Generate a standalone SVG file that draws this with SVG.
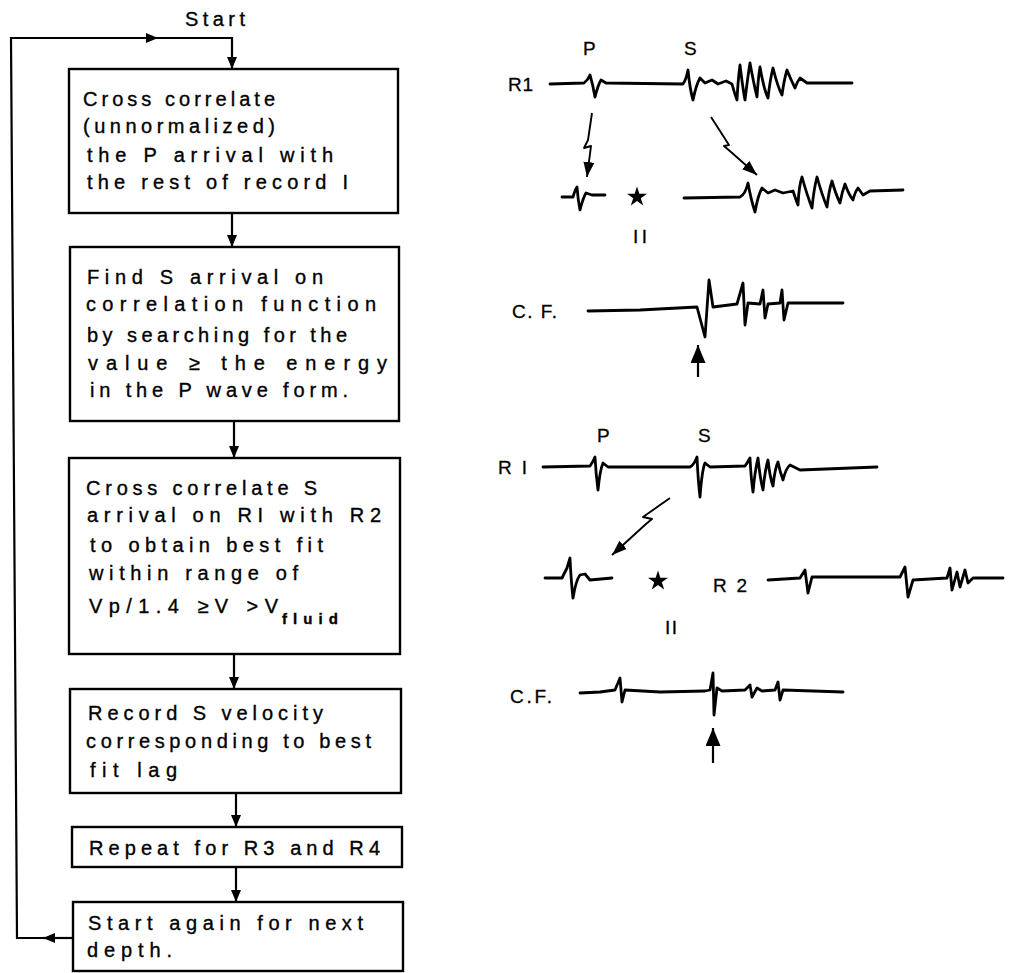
<svg xmlns="http://www.w3.org/2000/svg" width="1016" height="973" viewBox="0 0 1016 973">
<defs>
<style>
.box{fill:#fff;stroke:#000;stroke-width:2.4}
.t{font-family:"Liberation Sans",Arial,sans-serif;font-size:20px;fill:#000;stroke:#000;stroke-width:0.35}
.lbl{font-family:"Liberation Sans",Arial,sans-serif;font-size:19px;fill:#000;stroke:#000;stroke-width:0.3}
.conn{fill:none;stroke:#000;stroke-width:2.2}
.wave{fill:none;stroke:#000;stroke-width:2.8;stroke-linejoin:round;stroke-linecap:round}
.warr{fill:none;stroke:#000;stroke-width:1.9;stroke-linejoin:round}
</style>
<marker id="ah" viewBox="0 0 12 10" refX="12" refY="5" markerWidth="12" markerHeight="10" markerUnits="userSpaceOnUse" orient="auto">
<path d="M0,0 L12,5 L0,10 z" fill="#000"/>
</marker>
<marker id="ahw" viewBox="0 0 15 11" refX="15" refY="5.5" markerWidth="15" markerHeight="11" markerUnits="userSpaceOnUse" orient="auto">
<path d="M0,0 L15,5.5 L0,11 z" fill="#000"/>
</marker>
<marker id="ahb" viewBox="0 0 18 15" refX="18" refY="7.5" markerWidth="18" markerHeight="15" markerUnits="userSpaceOnUse" orient="auto">
<path d="M0,0 L18,7.5 L0,15 z" fill="#000"/>
</marker>
<path id="star" d="M0,-10 L2.245,-3.09 L9.51,-3.09 L3.63,1.18 L5.88,8.09 L0,3.82 L-5.88,8.09 L-3.63,1.18 L-9.51,-3.09 L-2.245,-3.09 Z" fill="#000"/>
</defs>
<rect width="1016" height="973" fill="#fff"/>

<g id="connectors">
<path class="conn" d="M73,938 L43,938" marker-end="url(#ah)"/>
<path class="conn" d="M44,938 L17,938 L11,38 L158,38" marker-end="url(#ah)"/>
<path class="conn" d="M157,38 L232,38 L232,69" marker-end="url(#ah)"/>
<path class="conn" d="M232,213 L232,247" marker-end="url(#ah)"/>
<path class="conn" d="M234,421 L234,458" marker-end="url(#ah)"/>
<path class="conn" d="M234,654 L234,689" marker-end="url(#ah)"/>
<path class="conn" d="M236,793 L236,827" marker-end="url(#ah)"/>
<path class="conn" d="M236,867 L236,902" marker-end="url(#ah)"/>
</g>

<g id="start">
<text class="t" x="185" y="26" textLength="60" lengthAdjust="spacing">Start</text>
</g>

<g id="node1">
<rect class="box" x="69" y="69" width="329" height="144"/>
<text class="t" x="83" y="106" textLength="192" lengthAdjust="spacing">Cross correlate</text>
<text class="t" x="83" y="133" textLength="192" lengthAdjust="spacing">(unnormalized)</text>
<text class="t" x="87" y="162" textLength="246" lengthAdjust="spacing">the P arrival with</text>
<text class="t" x="87" y="189" textLength="261" lengthAdjust="spacing">the rest of record I</text>
</g>

<g id="node2">
<rect class="box" x="70" y="247" width="329" height="174"/>
<text class="t" x="87" y="284" textLength="236" lengthAdjust="spacing">Find S arrival on</text>
<text class="t" x="86" y="311" textLength="290" lengthAdjust="spacing">correlation function</text>
<text class="t" x="87" y="342" textLength="260" lengthAdjust="spacing">by searching for the</text>
<text class="t" x="88" y="370" textLength="299" lengthAdjust="spacing">value  ≥  the energy</text>
<text class="t" x="90" y="397" textLength="258" lengthAdjust="spacing">in the P wave form.</text>
</g>

<g id="node3">
<rect class="box" x="69" y="458" width="331" height="196"/>
<text class="t" x="86" y="495" textLength="231" lengthAdjust="spacing">Cross correlate S</text>
<text class="t" x="87" y="522" textLength="294" lengthAdjust="spacing">arrival on RI with R2</text>
<text class="t" x="90" y="552" textLength="233" lengthAdjust="spacing">to obtain best fit</text>
<text class="t" x="89" y="580" textLength="209" lengthAdjust="spacing">within range of</text>
<text class="t" x="89" y="613" textLength="189" lengthAdjust="spacing">Vp/1.4 ≥V &gt;V</text>
<text class="t" x="282" y="624" style="font-size:15px;font-weight:bold" textLength="56" lengthAdjust="spacing">fluid</text>
</g>

<g id="node4">
<rect class="box" x="70" y="689" width="331" height="104"/>
<text class="t" x="88" y="720" textLength="235" lengthAdjust="spacing">Record S velocity</text>
<text class="t" x="86" y="748" textLength="285" lengthAdjust="spacing">corresponding to best</text>
<text class="t" x="90" y="777" textLength="87" lengthAdjust="spacing">fit lag</text>
</g>

<g id="node5">
<rect class="box" x="72" y="827" width="330" height="40"/>
<text class="t" x="89" y="855" textLength="291" lengthAdjust="spacing">Repeat for R3 and R4</text>
</g>

<g id="node6">
<rect class="box" x="73" y="902" width="330" height="69"/>
<text class="t" x="88" y="930" textLength="275" lengthAdjust="spacing">Start again for next</text>
<text class="t" x="87" y="957" textLength="85" lengthAdjust="spacing">depth.</text>
</g>

<g id="panel-top">
<text class="lbl" x="583" y="55">P</text>
<text class="lbl" x="684" y="55">S</text>
<text class="lbl" x="508" y="91" textLength="25" lengthAdjust="spacing">R1</text>
<path class="wave" d="M550,84 L584,83 Q588,80 590,75 Q593,85 595,97 Q598,85 601,80 L606,83 L683,84 Q686,80 688,70 Q690,90 693,100 Q696,85 700,78 L705,83 L712,80 L718,84 L726,81 L732,84 Q735,95 737,100 Q738,80 740,65 Q743,90 745,100 Q748,75 750,63 Q754,85 757,97 Q758,80 760,67 Q764,90 768,98 Q770,80 773,68 Q778,88 782,95 Q784,80 787,70 Q791,80 795,88 Q797,82 800,78 L807,83 L852,83"/>
<path class="warr" d="M592,113 L588,140 L584,148 L591,146 L587,177" marker-end="url(#ahw)"/>
<path class="warr" d="M711,117 L729,145 L724,146 L731,152 L757,175" marker-end="url(#ahw)"/>
<path class="wave" d="M562,197 L573,197 Q575,190 577,187 Q578,200 580,210 Q583,198 586,193 L592,195 L605,195"/>
<use href="#star" transform="translate(637,197) scale(1.05)"/>
<text class="lbl" x="633" y="243" textLength="14" lengthAdjust="spacing">II</text>
<path class="wave" d="M684,198 L740,197 Q745,195 748,183 Q751,200 755,212 Q758,195 762,188 L768,193 L775,190 L783,193 L793,191 Q796,200 798,205 Q799,185 802,177 Q807,195 812,208 Q814,188 817,177 Q822,195 827,207 Q829,190 832,181 Q836,195 840,203 Q842,192 845,184 Q849,195 853,200 Q855,192 858,188 L863,195 L870,191 L903,190"/>
<text class="lbl" x="512" y="318" textLength="45" lengthAdjust="spacing">C. F.</text>
<path class="wave" d="M588,311 L640,310 L697,307 L705,337 L709,280 L713,307 L737,304 L743,283 L745,325 L748,303 L760,304 L763,290 L765,318 L768,304 L780,303 L782,290 L784,320 L788,303 L843,303"/>
<path class="conn" d="M698,377 L698,345" marker-end="url(#ahb)"/>
</g>

<g id="panel-bottom">
<text class="lbl" x="597" y="442">P</text>
<text class="lbl" x="698" y="442">S</text>
<text class="lbl" x="498" y="474" textLength="29" lengthAdjust="spacing">RI</text>
<path class="wave" d="M543,467 L590,466 Q593,462 595,457 Q596,475 598,490 Q600,470 603,463 L608,467 L690,467 Q694,465 697,457 Q698,480 700,497 Q702,470 705,463 L710,467 L745,466 Q748,462 750,458 Q751,478 753,492 Q755,470 758,458 Q760,478 763,490 Q765,470 768,460 Q770,478 773,486 Q775,468 778,462 Q780,472 783,480 Q786,468 790,465 L800,470 L877,467"/>
<path class="warr" d="M670,498 L643,517 L652,519 L646,524 L612,555" marker-end="url(#ahw)"/>
<path class="wave" d="M545,578 L562,578 L567,568 L570,558 Q571,580 573,598 Q576,580 580,575 L585,574 L590,580 L612,578"/>
<use href="#star" transform="translate(658,581) scale(1.05)"/>
<text class="lbl" x="665" y="634" textLength="12" lengthAdjust="spacing">II</text>
<text class="lbl" x="713" y="592" textLength="34" lengthAdjust="spacing">R2</text>
<path class="wave" d="M768,580 L800,578 L805,570 L808,593 L812,577 L900,577 L905,567 L908,597 L913,580 L947,578 L950,568 L952,590 L957,572 L960,587 L965,570 L968,583 L973,578 L1003,578"/>
<text class="lbl" x="510" y="703" textLength="42" lengthAdjust="spacing">C.F.</text>
<path class="wave" d="M580,693 L600,692 L615,690 L620,678 L622,702 L625,690 L660,692 L705,691 L710,690 L713,673 L714,715 L717,688 L722,691 L745,690 L750,685 L752,697 L757,688 L762,691 L775,690 L778,682 L780,700 L783,690 L843,692"/>
<path class="conn" d="M713,763 L713,728" marker-end="url(#ahb)"/>
</g>
</svg>
